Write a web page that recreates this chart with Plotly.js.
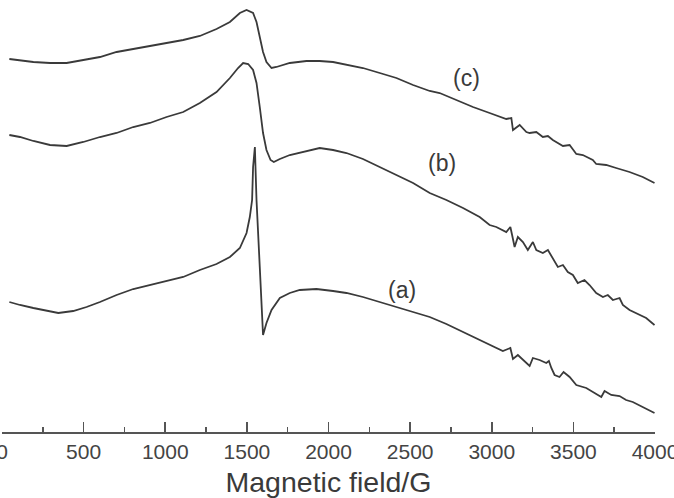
<!DOCTYPE html>
<html>
<head>
<meta charset="utf-8">
<script src="https://cdn.plot.ly/plotly-3.0.1.min.js"></script>
<style>
  html, body { margin: 0; padding: 0; background: #ffffff; }
  #chart { width: 674px; height: 498px; }
</style>
</head>
<body>
<div id="chart"></div>
<script>
// EPR spectra of three samples, intensity in arbitrary units (stacked offsets)
const fieldA = [45,110,192,274,345,436,518,600,702,804,906,1008,1110,1212,1314,1396,1457,1498,1518,1532,
  1538,1549,1559,1579,1599,1620,1651,1702,1763,1824,1926,2028,2110,2211,2314,2416,2518,2620,2722,2824,
  2926,2987,3028,3068,3114,3130,3160,3191,3232,3252,3293,3334,3350,3365,3385,3415,3440,3477,3518,3579,
  3640,3671,3691,3732,3783,3823,3864,3925,3997];
const signalA = [130,127,124,121,119,121,125,130,137,143,147,151,155,162,168,175,184,199,215,232,
  265,285,232,165,97,109,122,134,139,142,143,141,139,135,130,125,120,115,108,100,
  92,87,84,81,84,73,77,72,66,74,72,69,71,64,57,55,60,55,47,44,
  38,35,41,37,36,32,30,25,19];

const fieldB = [45,110,192,294,396,498,600,702,804,906,1008,1110,1212,1314,1396,1446,1477,1508,1538,1559,
  1579,1599,1620,1645,1665,1702,1763,1865,1946,2028,2110,2211,2314,2416,2518,2620,2722,2824,2926,2987,
  3028,3089,3114,3126,3140,3160,3191,3221,3252,3273,3313,3344,3374,3405,3436,3466,3497,3527,3568,3599,
  3640,3681,3711,3742,3783,3803,3844,3905,3946,3997];
const signalB = [297,295,291,287,286,290,295,299,305,309,315,320,329,340,354,364,369,368,362,349,
  325,299,282,272,270,273,277,281,284,282,279,273,265,257,249,239,232,224,215,207,
  205,200,205,196,185,195,190,182,190,182,179,182,174,165,167,160,157,149,152,147,
  139,135,137,132,134,127,122,117,114,107];

const fieldC = [45,192,294,396,498,600,702,804,906,1008,1110,1212,1314,1396,1457,1498,1538,1559,1579,1599,
  1620,1651,1681,1763,1865,1946,2028,2110,2211,2314,2416,2518,2620,2681,2783,2885,2987,3089,3120,3130,
  3171,3212,3232,3273,3313,3344,3374,3436,3477,3518,3558,3619,3640,3701,3762,3844,3925,3997];
const signalC = [373,370,369,369,372,375,380,383,386,389,392,396,403,410,419,422,419,410,395,380,
  370,364,365,369,371,371,370,367,364,359,354,347,341,339,332,325,319,313,314,302,
  307,300,299,300,295,296,292,286,287,278,277,272,268,267,264,260,255,249];

const curveLabels = ['(a)', '(b)', '(c)'];
const labelField = [2448, 2693, 2846];
const labelSignal = [142, 269, 354];

const tickVals = [0, 500, 1000, 1500, 2000, 2500, 3000, 3500, 4000];

const ink = '#3a3a3a';
const lineStyle = { color: ink, width: 1.8 };

const traces = [
  { x: fieldA, y: signalA, mode: 'lines', line: lineStyle, hoverinfo: 'skip', name: curveLabels[0] },
  { x: fieldB, y: signalB, mode: 'lines', line: lineStyle, hoverinfo: 'skip', name: curveLabels[1] },
  { x: fieldC, y: signalC, mode: 'lines', line: lineStyle, hoverinfo: 'skip', name: curveLabels[2] }
];

const annotations = curveLabels.map((t, i) => ({
  x: labelField[i], y: labelSignal[i], xref: 'x', yref: 'y',
  text: t, showarrow: false,
  font: { family: 'Liberation Sans, Arial, sans-serif', size: 23, color: ink }
}));

const layout = {
  width: 674, height: 498,
  margin: { l: 2, r: 18.5, t: 0, b: 66 },
  paper_bgcolor: '#ffffff', plot_bgcolor: '#ffffff',
  showlegend: false,
  font: { family: 'Liberation Sans, Arial, sans-serif', color: '#444444' },
  xaxis: {
    range: [0, 4000],
    tickvals: tickVals,
    ticktext: tickVals.map(String),
    ticklabeloverflow: 'allow',
    ticks: 'inside', ticklen: 10, tickwidth: 1.6, tickcolor: '#555555',
    minor: { ticks: 'inside', ticklen: 5, tickwidth: 1.5, tickcolor: '#555555', dtick: 250, tick0: 0 },
    showline: true, linecolor: '#555555', linewidth: 1.5,
    showgrid: false, zeroline: false,
    tickfont: { size: 21, color: '#444444' },
    title: { text: 'Magnetic field/G', font: { size: 28.5, color: '#3a3a3a' }, standoff: 19 },
    automargin: false, fixedrange: true
  },
  yaxis: {
    range: [0, 432], visible: false, fixedrange: true
  },
  annotations: annotations
};

Plotly.newPlot('chart', traces, layout, { displayModeBar: false, staticPlot: true });
</script>
</body>
</html>
